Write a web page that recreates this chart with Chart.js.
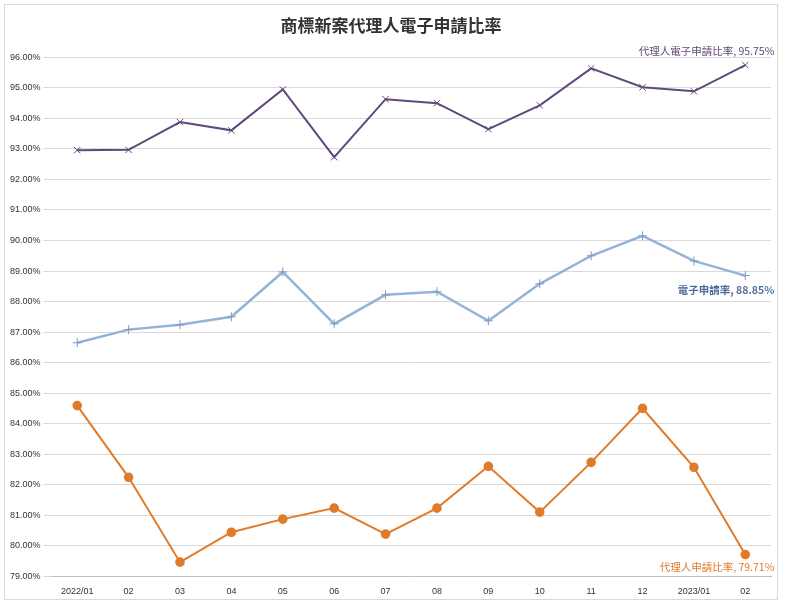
<!DOCTYPE html>
<html>
<head>
<meta charset="utf-8">
<script src="https://cdn.jsdelivr.net/npm/chart.js@4/dist/chart.umd.min.js"></script>
<style>
  body { margin: 0; background: #fff; }
  #wrap { position: absolute; left: 4px; top: 4px; width: 774px; height: 596px; border: 1px solid #d9d9d9; box-sizing: border-box; }
</style>
</head>
<body>
<div id="wrap"><canvas id="chart"></canvas></div>
<script>
// Months
const months = ["2022/01", "02", "03", "04", "05", "06", "07", "08", "09", "10", "11", "12", "2023/01", "02"];

// Ratios (%)
const agentEfiling = [92.96, 92.97, 93.88, 93.61, 94.95, 92.73, 94.63, 94.50, 93.65, 94.43, 95.64, 95.02, 94.89, 95.75];
const efiling = [86.65, 87.08, 87.24, 87.50, 88.97, 87.27, 88.22, 88.32, 87.37, 88.58, 89.50, 90.15, 89.33, 88.85];
const agentRatio = [84.59, 82.24, 79.46, 80.44, 80.87, 81.23, 80.38, 81.23, 82.60, 81.10, 82.73, 84.50, 82.57, 79.71];

const seriesLabels = ["代理人電子申請比率", "電子申請率", "代理人申請比率"];
const labelColors = ["#60497A", "#4F6F9A", "#E07B2A"];

// draw "name, value%" next to each series' last point
const endLabels = {
  id: "endLabels",
  afterDatasetsDraw(chart) {
    const ctx = chart.ctx;
    ctx.save();
    ctx.textAlign = "right";
    ctx.textBaseline = "middle";
    chart.data.datasets.forEach((ds, i) => {
      const meta = chart.getDatasetMeta(i);
      const pt = meta.data[meta.data.length - 1];
      const v = ds.data[ds.data.length - 1];
      const text = seriesLabels[i] + ", " + v.toFixed(2) + "%";
      ctx.fillStyle = labelColors[i];
      ctx.font = (i === 1 ? "bold " : "") + "10.5px 'Noto Sans CJK TC', sans-serif";
      let y = pt.y;
      if (i === 0) y -= 14;
      if (i === 1) y += 14;
      if (i === 2) y += 12;
      ctx.fillText(text, pt.x + 29, y);
    });
    ctx.restore();
  }
};

new Chart(document.getElementById("chart"), {
  type: "line",
  data: {
    labels: months,
    datasets: [
      {
        label: seriesLabels[0],
        data: agentEfiling,
        borderColor: "#60497A",
        borderWidth: 2,
        pointStyle: "crossRot",
        pointRadius: 4.5,
        pointBorderColor: "#60497A",
        pointBorderWidth: 1,
      },
      {
        label: seriesLabels[1],
        data: efiling,
        borderColor: "#95B3D7",
        borderWidth: 2.5,
        pointStyle: "cross",
        pointRadius: 4.5,
        pointBorderColor: "#7F9CC4",
        pointBorderWidth: 1,
      },
      {
        label: seriesLabels[2],
        data: agentRatio,
        borderColor: "#E07B2A",
        backgroundColor: "#E07B2A",
        borderWidth: 2,
        pointStyle: "circle",
        pointRadius: 3.8,
      },
    ],
  },
  options: {
    responsive: true,
    maintainAspectRatio: false,
    animation: false,
    layout: { padding: { left: 2, right: 2, top: 4, bottom: 0 } },
    plugins: {
      legend: { display: false },
      tooltip: { enabled: false },
      title: {
        display: true,
        text: "商標新案代理人電子申請比率",
        color: "#333",
        font: { family: "'Noto Sans CJK TC', sans-serif", size: 17, weight: "bold" },
        padding: { top: 6, bottom: 22 },
      },
    },
    scales: {
      x: {
        offset: true,
        grid: { display: false },
        border: { color: "#bfbfbf" },
        ticks: { color: "#333", font: { size: 9 }, maxRotation: 0, autoSkip: false, padding: 2 },
      },
      y: {
        min: 79,
        max: 96,
        grid: { color: "#d9d9d9" },
        border: { display: false },
        ticks: {
          stepSize: 1,
          color: "#333",
          font: { size: 9 },
          callback: (v) => v.toFixed(2) + "%",
        },
      },
    },
  },
  plugins: [endLabels],
});
</script>
</body>
</html>
